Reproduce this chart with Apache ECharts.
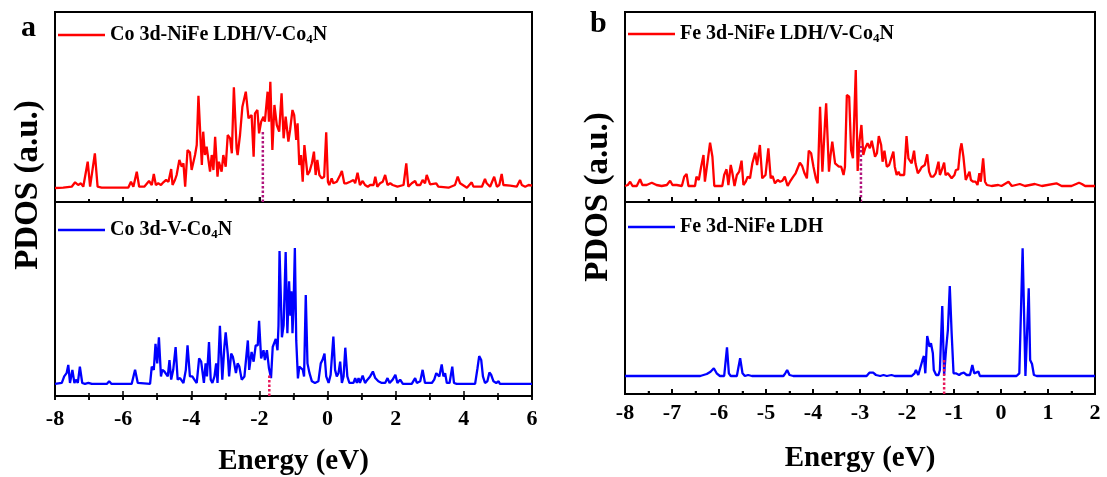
<!DOCTYPE html>
<html>
<head>
<meta charset="utf-8">
<script src="https://cdn.jsdelivr.net/npm/echarts@6/dist/echarts.min.js"></script>
<style>
html,body{margin:0;padding:0;background:#fff;}
#chart{width:1107px;height:477px;}
</style>
</head>
<body>
<div id="chart"></div>
<script>
// ---------- Data (energy in eV, PDOS in arbitrary units) ----------
const nameCoHybrid = 'Co 3d-NiFe LDH/V-Co4N';
const nameCoBare = 'Co 3d-V-Co4N';
const nameFeHybrid = 'Fe 3d-NiFe LDH/V-Co4N';
const nameFeBare = 'Fe 3d-NiFe LDH';

const ticksA = { min: -8, max: 6, interval: 2 };
const ticksB = { min: -8, max: 2, interval: 1 };

const coHybrid = [[-8.00,0],[-7.76,0.3],[-7.51,1.3],[-7.41,5.7],[-7.32,3],[-7.24,4.7],[-7.17,1.3],[-7.04,26.3],[-6.97,1.3],[-6.83,34.7],[-6.75,1.3],[-6.63,0.3],[-6.24,0.3],[-5.85,0.3],[-5.77,6.3],[-5.70,1.3],[-5.60,16.3],[-5.53,1.3],[-5.38,1.3],[-5.24,7],[-5.16,3],[-5.10,14],[-5.04,3],[-4.97,4.7],[-4.89,3],[-4.82,5.7],[-4.74,8],[-4.67,6.3],[-4.59,19],[-4.55,3],[-4.48,8],[-4.43,13],[-4.35,28],[-4.28,21.3],[-4.23,24.7],[-4.18,1.3],[-4.11,38],[-4.04,35.7],[-3.99,18],[-3.89,33],[-3.84,43],[-3.79,92.3],[-3.73,49.7],[-3.69,23],[-3.65,56.3],[-3.60,33],[-3.55,41.3],[-3.50,41.3],[-3.45,16.3],[-3.40,33],[-3.35,18],[-3.30,51.3],[-3.23,11.3],[-3.19,26.3],[-3.11,16.3],[-3.06,33],[-2.99,21.3],[-2.93,53],[-2.86,49.7],[-2.81,34.7],[-2.75,100.7],[-2.67,39.7],[-2.64,33],[-2.57,53],[-2.50,81.3],[-2.40,96.3],[-2.32,69.7],[-2.28,69.7],[-2.23,73],[-2.17,31.3],[-2.13,74.7],[-2.06,78],[-2.01,54.7],[-1.95,66.3],[-1.88,71.3],[-1.84,66.3],[-1.76,96.3],[-1.72,66.3],[-1.68,106.3],[-1.62,38],[-1.56,83],[-1.49,63],[-1.42,56.3],[-1.35,94.7],[-1.29,49.7],[-1.23,71.3],[-1.15,46.3],[-1.10,58],[-1.03,78],[-0.98,73],[-0.92,48],[-0.88,64.7],[-0.83,23],[-0.78,33],[-0.73,6.3],[-0.68,43],[-0.63,26.3],[-0.59,13],[-0.53,16.3],[-0.46,24.7],[-0.40,36.3],[-0.35,13],[-0.30,28],[-0.24,13],[-0.17,9.7],[-0.10,11.3],[-0.04,55.7],[0.01,6.3],[0.05,3],[0.12,9.7],[0.17,4.7],[0.27,6.3],[0.37,13],[0.42,17],[0.49,4.7],[0.56,4.7],[0.66,6.3],[0.76,8],[0.81,4.7],[0.88,15.3],[0.95,3],[1.03,7],[1.10,3],[1.18,1.3],[1.25,3],[1.35,3],[1.40,11.3],[1.46,1.3],[1.54,4.7],[1.62,6.3],[1.69,13],[1.76,3],[1.84,4.7],[1.91,3],[2.05,1.3],[2.23,3],[2.31,24.7],[2.37,1.3],[2.47,4.7],[2.57,7],[2.62,3],[2.72,3],[2.79,8],[2.86,4.7],[2.91,13],[2.96,13.7],[3.01,3.7],[3.19,4.7],[3.25,1.3],[3.55,0.3],[3.74,3],[3.82,11.3],[3.89,4.7],[4.09,0.3],[4.23,5.7],[4.28,1.3],[4.53,1.3],[4.62,9],[4.67,4.7],[4.77,1.3],[4.89,11.3],[4.97,1.3],[5.04,3],[5.11,14],[5.16,3],[5.36,2.3],[5.55,1.3],[5.65,8],[5.70,3],[5.80,1.3],[5.90,3],[6.00,2.3]];

const coBare = [[-8.00,0.3],[-7.80,1.3],[-7.73,8],[-7.66,11.3],[-7.61,19.7],[-7.56,1.3],[-7.49,14.7],[-7.43,1.3],[-7.39,4.7],[-7.33,1.3],[-7.27,18],[-7.20,1.3],[-7.12,0.3],[-7.02,1.3],[-6.92,0.3],[-6.48,0.3],[-6.41,3],[-6.34,0.3],[-5.75,0.3],[-5.65,14.7],[-5.57,1.3],[-5.21,0.3],[-5.16,18],[-5.10,14.7],[-5.05,41.3],[-5.00,21.3],[-4.95,48],[-4.89,8],[-4.85,14.7],[-4.79,13],[-4.74,14.7],[-4.69,8],[-4.64,24.7],[-4.59,4.7],[-4.53,14.7],[-4.46,38],[-4.40,4.7],[-4.33,6.3],[-4.23,1.3],[-4.16,14.7],[-4.11,39.7],[-4.04,8],[-3.97,8],[-3.91,4.7],[-3.84,1.3],[-3.77,26.3],[-3.71,23],[-3.67,24.7],[-3.63,1.3],[-3.58,21.3],[-3.54,8],[-3.48,43],[-3.43,4.7],[-3.38,1.3],[-3.32,8],[-3.27,21.3],[-3.23,1.3],[-3.16,59.7],[-3.09,4.7],[-3.03,38],[-2.99,53],[-2.93,31.3],[-2.89,8],[-2.83,31.3],[-2.78,28],[-2.74,21.3],[-2.69,11.3],[-2.64,21.3],[-2.59,18],[-2.52,4.7],[-2.44,8],[-2.34,44.7],[-2.30,14.7],[-2.23,33],[-2.17,23],[-2.11,39.7],[-2.05,39.7],[-2.01,64.7],[-1.95,26.3],[-1.88,34.7],[-1.84,24.7],[-1.78,34.7],[-1.72,16.3],[-1.66,6.3],[-1.61,38],[-1.56,39.7],[-1.52,46.3],[-1.47,34.7],[-1.44,60],[-1.41,136],[-1.38,100],[-1.34,48],[-1.29,60],[-1.23,135],[-1.18,52],[-1.13,105],[-1.09,70],[-1.06,95],[-1.03,52],[-1.00,78],[-0.96,139],[-0.92,45],[-0.87,6],[-0.83,18],[-0.78,20],[-0.73,15],[-0.69,8],[-0.64,91],[-0.59,21.3],[-0.53,11.3],[-0.46,3],[-0.37,1.3],[-0.27,3],[-0.20,21.3],[-0.15,24.7],[-0.09,31.3],[-0.04,8],[0.03,1.3],[0.09,9.7],[0.17,48.7],[0.22,14.7],[0.27,8],[0.32,11.3],[0.37,23],[0.42,1.3],[0.47,8],[0.52,37.3],[0.58,8],[0.64,1.3],[0.76,1.3],[0.81,6.3],[0.86,1.3],[0.91,6.3],[0.95,1.3],[1.03,8.7],[1.10,1.3],[1.17,4.7],[1.25,8],[1.33,13],[1.40,6.3],[1.49,3],[1.59,1.3],[1.69,1.3],[1.76,6.3],[1.82,1.3],[1.91,4.7],[1.99,9.7],[2.05,1.3],[2.13,4.7],[2.21,0.3],[2.47,0.3],[2.57,6.3],[2.62,1.3],[2.72,3],[2.79,14.7],[2.86,1.3],[2.96,1.3],[3.06,1.3],[3.13,4.7],[3.19,11.3],[3.24,9.7],[3.28,8],[3.35,20.3],[3.40,8],[3.45,11.3],[3.50,1.3],[3.58,1.3],[3.66,18],[3.71,1.3],[3.79,0.3],[4.33,0.3],[4.40,16.3],[4.45,28.7],[4.51,24.7],[4.56,8],[4.62,1.3],[4.69,3],[4.75,12],[4.80,9.7],[4.87,3],[4.95,1.3],[5.02,3],[5.06,0.3],[6.00,0.3]];

const feHybrid = [[-8.00,0],[-7.94,1],[-7.89,4.3],[-7.84,0],[-7.75,0],[-7.68,6.7],[-7.63,1],[-7.54,1],[-7.43,3.3],[-7.33,1],[-7.22,0],[-7.11,1],[-7.04,5.3],[-6.99,1],[-6.90,1],[-6.79,0],[-6.74,9.3],[-6.69,12],[-6.65,0],[-6.51,0],[-6.48,9.3],[-6.43,6],[-6.38,19.3],[-6.33,31],[-6.30,4.3],[-6.26,6],[-6.19,43.3],[-6.14,29.3],[-6.10,0],[-5.93,0],[-5.89,11],[-5.84,16.7],[-5.80,1],[-5.75,21],[-5.72,14.3],[-5.67,0],[-5.62,11],[-5.57,14.3],[-5.52,25.3],[-5.48,1],[-5.43,4.3],[-5.39,9.3],[-5.34,7.7],[-5.29,22.7],[-5.23,33.3],[-5.19,21],[-5.13,41],[-5.08,7.7],[-5.04,6],[-5.01,11],[-4.95,37.7],[-4.90,7.7],[-4.86,10],[-4.81,2.7],[-4.75,6],[-4.70,4.3],[-4.65,5.3],[-4.60,9.3],[-4.54,0],[-4.49,4.3],[-4.42,9.3],[-4.37,12.7],[-4.33,11],[-4.28,23.3],[-4.23,20],[-4.18,12.7],[-4.13,7.7],[-4.09,35.3],[-4.04,32.7],[-3.99,19.3],[-3.94,7.7],[-3.90,2.7],[-3.85,79.3],[-3.80,14.3],[-3.74,67.7],[-3.72,82.7],[-3.66,14.3],[-3.63,29.3],[-3.59,44.3],[-3.53,22.7],[-3.49,22.7],[-3.45,19.3],[-3.40,19.3],[-3.35,11],[-3.32,19.3],[-3.28,91],[-3.23,89.3],[-3.19,36],[-3.15,27.7],[-3.09,116],[-3.05,15],[-3.01,45],[-2.97,61],[-2.93,31],[-2.89,37.7],[-2.84,42.7],[-2.79,37.7],[-2.75,45.3],[-2.72,46],[-2.68,29.3],[-2.64,32.7],[-2.60,50],[-2.55,41],[-2.52,24.3],[-2.48,35.3],[-2.43,19.3],[-2.38,21],[-2.34,19.3],[-2.29,34.3],[-2.26,19.3],[-2.22,11],[-2.18,14.3],[-2.15,11],[-2.11,9.3],[-2.06,11],[-2.01,50],[-1.97,27.7],[-1.94,26],[-1.90,22.7],[-1.85,35.3],[-1.82,22.7],[-1.77,12.7],[-1.72,16],[-1.69,18.7],[-1.62,21],[-1.57,31.7],[-1.53,14.3],[-1.49,9.3],[-1.44,9.3],[-1.39,12.7],[-1.33,24.3],[-1.30,11],[-1.26,16],[-1.21,23.3],[-1.18,11],[-1.13,12.7],[-1.09,14.3],[-1.05,7.7],[-0.99,11],[-0.96,16],[-0.91,16.7],[-0.87,36],[-0.84,42.7],[-0.80,29.3],[-0.75,6],[-0.71,4.3],[-0.67,14.3],[-0.64,6],[-0.59,4.3],[-0.54,4.3],[-0.50,1],[-0.46,12.7],[-0.43,4.3],[-0.38,27.7],[-0.34,4.3],[-0.30,1],[-0.20,0],[-0.06,1],[0.01,0],[0.16,4.3],[0.23,0],[0.40,2],[0.44,3.3],[0.51,0],[0.72,2],[0.87,0],[1.18,2.7],[1.29,0],[1.50,0],[1.66,3.3],[1.72,2],[1.79,0],[2.00,0]];

const feBare = [[-8.00,0],[-6.40,0],[-6.33,1],[-6.26,2],[-6.18,4.3],[-6.11,7.7],[-6.05,2.7],[-5.98,0],[-5.89,0],[-5.87,9.3],[-5.83,28.7],[-5.79,2.7],[-5.75,0],[-5.62,0],[-5.59,7.7],[-5.55,17.7],[-5.50,2.7],[-5.45,0],[-5.38,1],[-5.34,2.7],[-5.30,0],[-4.63,0],[-4.59,2.7],[-4.55,6],[-4.50,1],[-4.42,0],[-2.86,0],[-2.80,3.3],[-2.72,3.3],[-2.66,1],[-2.57,0],[-2.50,1],[-2.43,0],[-2.33,1],[-2.26,0],[-1.90,0],[-1.84,2.7],[-1.81,6],[-1.76,1],[-1.72,2],[-1.67,16],[-1.64,20],[-1.61,2.7],[-1.57,40],[-1.52,29.3],[-1.49,32.7],[-1.45,22.7],[-1.43,6],[-1.38,1],[-1.33,1],[-1.30,6],[-1.25,70],[-1.21,1],[-1.17,26],[-1.13,46],[-1.09,90],[-1.05,42.7],[-1.01,2.7],[-0.96,2.7],[-0.92,3.3],[-0.89,1],[-0.84,2.7],[-0.79,3.3],[-0.73,1],[-0.66,1],[-0.61,11],[-0.57,2.7],[-0.53,1],[-0.48,4.3],[-0.45,0],[0.33,0],[0.39,2.7],[0.46,127.7],[0.52,0],[0.55,1],[0.59,87.7],[0.62,16],[0.66,12],[0.70,1],[0.76,0],[2.00,0]];

// d-band centre markers: [energy, height of the dotted marker]
const dCenterCoHybrid = [-1.90, 58];
const dCenterCoBare = [-1.71, 11];
const dCenterFeHybrid = [-2.98, 40];
const dCenterFeBare = [-1.21, 17];

// ---------- Chart ----------
const FONT = '"Liberation Serif", "Times New Roman", serif';
const yRanges = [[-14, 176], [-12, 186], [-16, 174], [-18, 174]];
const panelRects = [
  { left: 55, top: 12, width: 477, height: 190 },
  { left: 55, top: 202, width: 477, height: 198 },
  { left: 625, top: 12, width: 470, height: 190 },
  { left: 625, top: 202, width: 470, height: 192 }
];
const panelTicks = [ticksA, ticksA, ticksB, ticksB];

const chart = echarts.init(document.getElementById('chart'));

function xAxisFor(gridIndex, t, showLabels, withName, labelMargin, nameGap) {
  const axis = {
    type: 'value', gridIndex, min: t.min, max: t.max, interval: t.interval,
    axisLine: { show: true, onZero: false, lineStyle: { color: '#000', width: 2 } },
    axisTick: { show: true, inside: true, length: 5, lineStyle: { color: '#000', width: 1.5 } },
    minorTick: { show: true, splitNumber: 2, length: 3, lineStyle: { color: '#000', width: 1.5 } },
    splitLine: { show: false },
    axisLabel: showLabels
      ? { color: '#000', fontFamily: FONT, fontWeight: 'bold', fontSize: 22, margin: labelMargin }
      : { show: false }
  };
  if (withName) {
    axis.name = 'Energy (eV)';
    axis.nameLocation = 'middle';
    axis.nameGap = nameGap;
    axis.nameTextStyle = { color: '#000', fontFamily: FONT, fontWeight: 'bold', fontSize: 29 };
  }
  return axis;
}
// overlay axes (grids 4-7) that only carry the inward tick marks
function tickAxisFor(gridIndex, t) {
  return {
    type: 'value', gridIndex, min: t.min, max: t.max, interval: t.interval, z: 10,
    axisLine: { show: false, onZero: false },
    axisTick: { show: true, inside: true, length: 5, lineStyle: { color: '#000', width: 1.5 } },
    minorTick: { show: true, splitNumber: 2, length: 3, lineStyle: { color: '#000', width: 1.5 } },
    splitLine: { show: false },
    axisLabel: { show: false }
  };
}
function yAxisFor(gridIndex, range) {
  return { type: 'value', gridIndex, min: range[0], max: range[1], show: false };
}
function curve(name, data, idx, color) {
  return { name, type: 'line', xAxisIndex: idx, yAxisIndex: idx, data, symbol: 'none',
    lineStyle: { color, width: 2.3 }, itemStyle: { color }, z: 3 };
}
function marker(pt, idx, color) {
  return { type: 'line', xAxisIndex: idx, yAxisIndex: idx, symbol: 'none', silent: true,
    data: [[pt[0], yRanges[idx][0]], [pt[0], pt[1]]],
    lineStyle: { color, width: 2.5, type: [2.5, 2] }, z: 4 };
}
// backup tick marks drawn at the overlay axes' major and half-interval values
function tickSeries(axisIdx, t) {
  const vals = [];
  const step = t.interval / 2;
  for (let k = 0; t.min + k * step <= t.max + 1e-9; k++) {
    vals.push([t.min + k * step, k % 2 === 0 ? 1 : 0]);
  }
  return {
    type: 'custom', xAxisIndex: axisIdx, yAxisIndex: axisIdx, silent: true, z: 12,
    clip: false, data: vals, encode: { x: 0, y: 1 },
    renderItem: (params, api) => {
      const p = api.coord([api.value(0), 0]);
      const len = api.value(1) ? 5 : 3;
      return { type: 'line', shape: { x1: p[0], y1: p[1], x2: p[0], y2: p[1] - len },
        style: { stroke: '#000', lineWidth: 1.5 } };
    }
  };
}
const legendText = { color: '#000', fontFamily: FONT, fontWeight: 'bold', fontSize: 20,
  rich: { s: { fontFamily: FONT, fontWeight: 'bold', fontSize: 13, padding: [9, 0, 0, 0], color: '#000' } } };
function legendFor(name, left, top) {
  return { data: [name], left, top, padding: 0, itemWidth: 47, itemHeight: 2.5, itemGap: 0,
    icon: 'rect', selectedMode: false, textStyle: legendText,
    formatter: n => n.replace('Co4N', 'Co{s|4}N') };
}

const gridBase = { show: true, borderColor: '#000', borderWidth: 2, backgroundColor: 'transparent', containLabel: false };

chart.setOption({
  animation: false,
  backgroundColor: '#fff',
  grid: panelRects.map(r => Object.assign({}, r, gridBase))
    .concat(panelRects.map(r => Object.assign({ show: false, containLabel: false }, r))),
  xAxis: [
    xAxisFor(0, ticksA, false, false, 8, 50),
    xAxisFor(1, ticksA, true, true, 12, 51),
    xAxisFor(2, ticksB, false, false, 8, 50),
    xAxisFor(3, ticksB, true, true, 8, 50)
  ].concat(panelTicks.map((t, i) => tickAxisFor(4 + i, t))),
  yAxis: yRanges.map((r, i) => yAxisFor(i, r)).concat([4, 5, 6, 7].map(i => yAxisFor(i, [0, 1]))),
  legend: [
    legendFor(nameCoHybrid, 58, 25),
    legendFor(nameCoBare, 58, 220),
    legendFor(nameFeHybrid, 628, 24),
    legendFor(nameFeBare, 628, 217)
  ],
  series: [
    curve(nameCoHybrid, coHybrid, 0, '#ff0000'),
    curve(nameCoBare, coBare, 1, '#0000ff'),
    curve(nameFeHybrid, feHybrid, 2, '#ff0000'),
    curve(nameFeBare, feBare, 3, '#0000ff'),
    marker(dCenterCoHybrid, 0, '#b0147c'),
    marker(dCenterCoBare, 1, '#e8185a'),
    marker(dCenterFeHybrid, 2, '#b0147c'),
    marker(dCenterFeBare, 3, '#e8185a')
  ].concat(panelTicks.map((t, i) => tickSeries(4 + i, t))),
  graphic: [
    { type: 'text', left: 21, top: 13, style: { text: 'a', font: 'bold 30px ' + FONT, fill: '#000' } },
    { type: 'text', left: 590, top: 9, style: { text: 'b', font: 'bold 30px ' + FONT, fill: '#000' } },
    { type: 'text', x: 28, y: 185, rotation: Math.PI / 2,
      style: { text: 'PDOS (a.u.)', font: 'bold 33px ' + FONT, fill: '#000', align: 'center', verticalAlign: 'middle' } },
    { type: 'text', x: 598, y: 197, rotation: Math.PI / 2,
      style: { text: 'PDOS (a.u.)', font: 'bold 33px ' + FONT, fill: '#000', align: 'center', verticalAlign: 'middle' } }
  ]
});
</script>
</body>
</html>
